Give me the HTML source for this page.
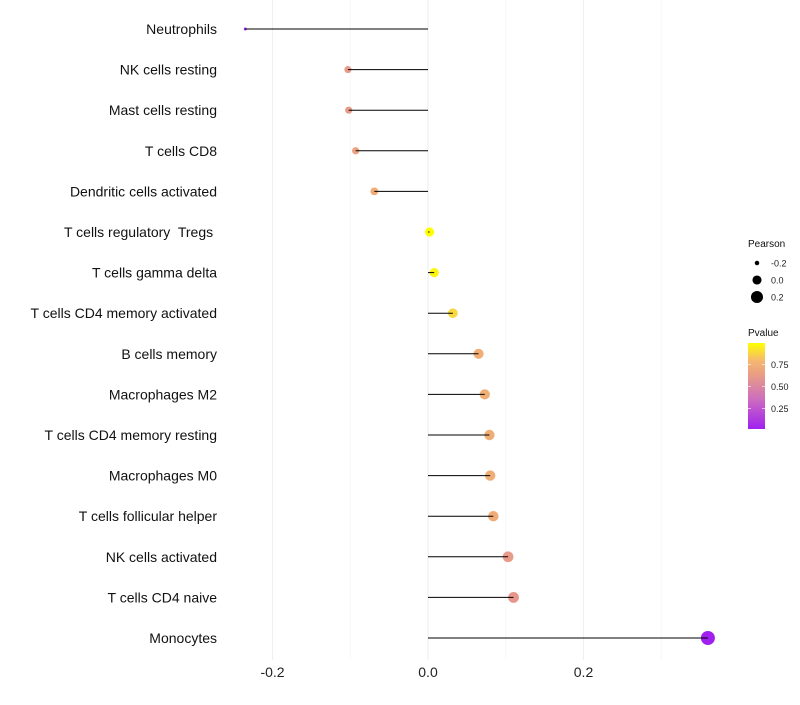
<!DOCTYPE html>
<html><head><meta charset="utf-8"><style>
body{margin:0;background:#fff;}
svg{font-family:"Liberation Sans",sans-serif;}
</style></head><body>
<svg id="c" width="800" height="700"></svg>
<script>
const categories=["Neutrophils","NK cells resting","Mast cells resting","T cells CD8","Dendritic cells activated","T cells regulatory  Tregs ","T cells gamma delta","T cells CD4 memory activated","B cells memory","Macrophages M2","T cells CD4 memory resting","Macrophages M0","T cells follicular helper","NK cells activated","T cells CD4 naive","Monocytes"];
const pearson=[-0.235,-0.103,-0.102,-0.093,-0.069,0.002,0.008,0.032,0.065,0.073,0.079,0.080,0.084,0.103,0.110,0.360];
const pvalue=[0.03,0.62,0.62,0.66,0.72,0.99,0.96,0.88,0.74,0.73,0.73,0.73,0.72,0.62,0.60,0.02];
const xTicks=[-0.2,0.0,0.2];
const xTickLabels=["-0.2","0.0","0.2"];
const minorTicks=[-0.1,0.1,0.3];
const sizeLegend=[-0.2,0.0,0.2];
const colorTicks=[0.25,0.5,0.75];

const NS="http://www.w3.org/2000/svg";
const svg=document.getElementById('c');
function el(t,a,p){const e=document.createElementNS(NS,t);for(const k in a)e.setAttribute(k,a[k]);(p||svg).appendChild(e);return e;}
const x=v=>428+v*777.5;
const y=i=>29+i*40.6;
const r=v=>Math.sqrt(Math.max(0,2.25+78.6*(v+0.235)));
const stops=[[0,[160,32,240]],[0.35,[205,110,190]],[0.65,[235,160,130]],[0.8,[245,185,110]],[1,[255,255,0]]];
function col(p){for(let i=1;i<stops.length;i++){if(p<=stops[i][0]){const a=stops[i-1],b=stops[i];const t=(p-a[0])/(b[0]-a[0]);const c=a[1].map((v,k)=>Math.round(v+(b[1][k]-v)*t));return `rgb(${c})`;}}return 'rgb(255,255,0)';}
const cmin=0.02,cmax=0.99;
const pc=p=>col((p-cmin)/(cmax-cmin));

minorTicks.forEach(v=>{const g=el('line',{x1:x(v),x2:x(v),y1:0,y2:660,stroke:'#f7f7f7','stroke-width':1});
});
xTicks.forEach((v,i)=>{const g=el('line',{x1:x(v),x2:x(v),y1:0,y2:660,stroke:'#f0f0f0','stroke-width':1.2});

const t=el('text',{x:x(v),y:677,'text-anchor':'middle','font-size':14,fill:'#222'});t.textContent=xTickLabels[i];
});

categories.forEach((c,i)=>{
const t=el('text',{x:217,y:y(i)+5,'text-anchor':'end','font-size':14,fill:'#111'});t.setAttribute('xml:space','preserve');t.style.whiteSpace='pre';t.textContent=c;

const d=el('circle',{cx:x(pearson[i]),cy:y(i),r:r(pearson[i]),fill:pc(pvalue[i])});

const l=el('line',{x1:x(0),x2:x(pearson[i]),y1:y(i),y2:y(i),stroke:'#000','stroke-width':1});

});

const lt=el('text',{x:748,y:247,'font-size':10,fill:'#111'});lt.textContent='Pearson';

sizeLegend.forEach((v,i)=>{const cy=263+i*17;
const c=el('circle',{cx:757,cy:cy,r:r(v),fill:'#000'});
const t=el('text',{x:771,y:cy+3.5,'font-size':9,fill:'#222'});t.textContent=v.toFixed(1);
});
const pt=el('text',{x:748,y:336,'font-size':10,fill:'#111'});pt.textContent='Pvalue';

const defs=el('defs',{});const gr=el('linearGradient',{id:'g',x1:0,y1:1,x2:0,y2:0},defs);
stops.forEach(s=>el('stop',{offset:s[0],'stop-color':`rgb(${s[1]})`},gr));
const bar=el('rect',{x:748,y:343,width:17,height:86,fill:'url(#g)'});

colorTicks.forEach(v=>{const cy=429-(v-cmin)/(cmax-cmin)*86;
el('line',{x1:748,x2:751,y1:cy,y2:cy,stroke:'#fff','stroke-width':0.6});
el('line',{x1:762,x2:765,y1:cy,y2:cy,stroke:'#fff','stroke-width':0.6});
const t=el('text',{x:771,y:cy+3.5,'font-size':9,fill:'#222'});t.textContent=v.toFixed(2);
});
</script>
</body></html>
